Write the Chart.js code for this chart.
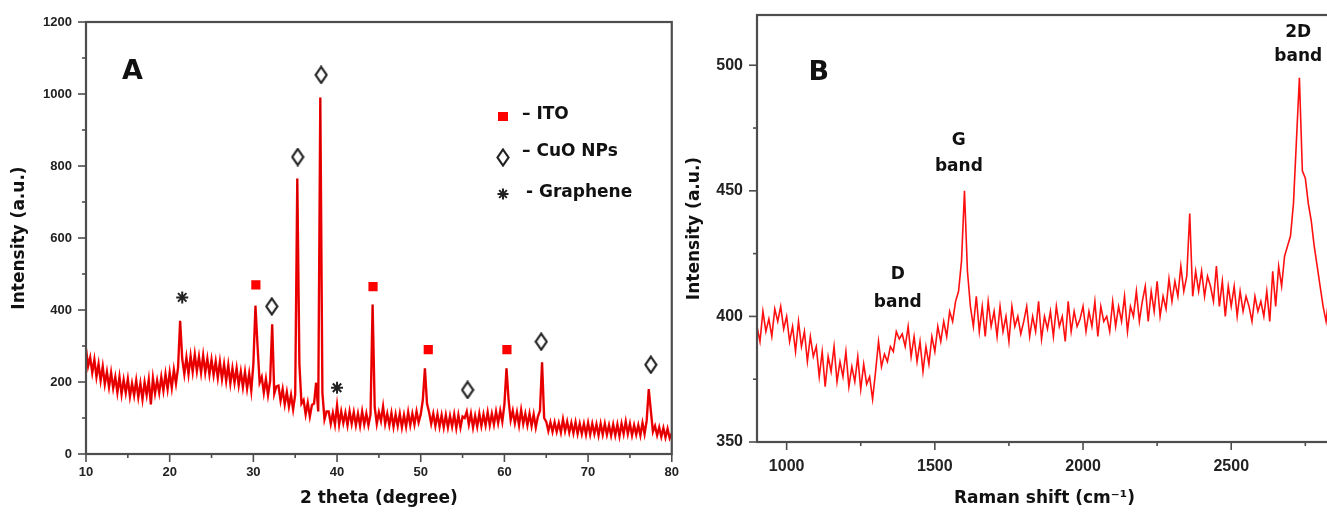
<!DOCTYPE html>
<html>
<head>
<meta charset="utf-8">
<title>XRD and Raman spectra</title>
<script src="https://cdn.jsdelivr.net/npm/chart.js@4.4.1/dist/chart.umd.min.js"></script>
<style>
  html, body { margin: 0; padding: 0; background: #fff; overflow: hidden; }
  body { width: 1327px; height: 512px; position: relative; }
  #boxA { position: absolute; left: 0; top: 0; width: 690px; height: 512px; }
  #boxB { position: absolute; left: 680px; top: 0; width: 680px; height: 512px; }
</style>
</head>
<body>
<div id="boxA"><canvas id="chartA"></canvas></div>
<div id="boxB"><canvas id="chartB"></canvas></div>
<script>
// ---- panel A : XRD pattern (2 theta, intensity) ----
const xrdTheta = [
  10, 10.25, 10.5, 10.75, 11, 11.25, 11.5, 11.75, 12, 12.25, 12.5, 12.75,
  13, 13.25, 13.5, 13.75, 14, 14.25, 14.5, 14.75, 15, 15.25, 15.5, 15.75,
  16, 16.25, 16.5, 16.75, 17, 17.25, 17.5, 17.75, 18, 18.25, 18.5, 18.75,
  19, 19.25, 19.5, 19.75, 20, 20.25, 20.5, 20.75, 21, 21.25, 21.5, 21.75,
  22, 22.25, 22.5, 22.75, 23, 23.25, 23.5, 23.75, 24, 24.25, 24.5, 24.75,
  25, 25.25, 25.5, 25.75, 26, 26.25, 26.5, 26.75, 27, 27.25, 27.5, 27.75,
  28, 28.25, 28.5, 28.75, 29, 29.25, 29.5, 29.75, 30, 30.25, 30.5, 30.75,
  31, 31.25, 31.5, 31.75, 32, 32.25, 32.5, 32.75, 33, 33.25, 33.5, 33.75,
  34, 34.25, 34.5, 34.75, 35, 35.25, 35.5, 35.75, 36, 36.25, 36.5, 36.75,
  37, 37.25, 37.5, 37.75, 38, 38.25, 38.5, 38.75, 39, 39.25, 39.5, 39.75,
  40, 40.25, 40.5, 40.75, 41, 41.25, 41.5, 41.75, 42, 42.25, 42.5, 42.75,
  43, 43.25, 43.5, 43.75, 44, 44.25, 44.5, 44.75, 45, 45.25, 45.5, 45.75,
  46, 46.25, 46.5, 46.75, 47, 47.25, 47.5, 47.75, 48, 48.25, 48.5, 48.75,
  49, 49.25, 49.5, 49.75, 50, 50.25, 50.5, 50.75, 51, 51.25, 51.5, 51.75,
  52, 52.25, 52.5, 52.75, 53, 53.25, 53.5, 53.75, 54, 54.25, 54.5, 54.75,
  55, 55.25, 55.5, 55.75, 56, 56.25, 56.5, 56.75, 57, 57.25, 57.5, 57.75,
  58, 58.25, 58.5, 58.75, 59, 59.25, 59.5, 59.75, 60, 60.25, 60.5, 60.75,
  61, 61.25, 61.5, 61.75, 62, 62.25, 62.5, 62.75, 63, 63.25, 63.5, 63.75,
  64, 64.25, 64.5, 64.75, 65, 65.25, 65.5, 65.75, 66, 66.25, 66.5, 66.75,
  67, 67.25, 67.5, 67.75, 68, 68.25, 68.5, 68.75, 69, 69.25, 69.5, 69.75,
  70, 70.25, 70.5, 70.75, 71, 71.25, 71.5, 71.75, 72, 72.25, 72.5, 72.75,
  73, 73.25, 73.5, 73.75, 74, 74.25, 74.5, 74.75, 75, 75.25, 75.5, 75.75,
  76, 76.25, 76.5, 76.75, 77, 77.25, 77.5, 77.75, 78, 78.25, 78.5, 78.75,
  79, 79.25, 79.5, 79.75, 80
];
const xrdIntensity = [
  292, 244, 268, 226, 262, 214, 250, 204, 243, 194, 228, 186,
  226, 183, 214, 171, 214, 166, 206, 170, 208, 160, 196, 163,
  204, 158, 196, 152, 199, 164, 206, 138, 210, 168, 204, 170,
  214, 176, 222, 180, 226, 184, 234, 196, 240, 370, 264, 222,
  268, 222, 272, 228, 276, 230, 270, 226, 274, 226, 265, 221,
  262, 219, 257, 212, 256, 208, 249, 203, 247, 196, 238, 198,
  238, 191, 229, 186, 228, 182, 223, 176, 250, 412, 300, 198,
  214, 170, 208, 164, 202, 360, 168, 188, 190, 148, 180, 138,
  172, 132, 164, 124, 165, 765, 250, 140, 150, 110, 142, 104,
  136, 140, 198, 118, 990, 170, 96, 118, 118, 84, 114, 82,
  135, 82, 118, 86, 114, 80, 118, 84, 116, 80, 112, 78,
  118, 82, 112, 80, 110, 415, 130, 84, 116, 92, 132, 84,
  112, 80, 114, 76, 110, 78, 112, 74, 108, 76, 116, 80,
  112, 82, 118, 88, 110, 150, 238, 140, 116, 84, 112, 78,
  110, 76, 108, 74, 108, 74, 106, 76, 110, 72, 108, 74,
  104, 100, 118, 82, 112, 74, 106, 76, 112, 78, 110, 80,
  116, 80, 112, 82, 118, 86, 120, 90, 138, 238, 150, 94,
  120, 86, 116, 80, 122, 84, 112, 80, 112, 78, 110, 74,
  104, 120, 255, 100, 90, 64, 88, 62, 88, 62, 86, 60,
  96, 64, 90, 60, 86, 58, 88, 56, 84, 56, 84, 54,
  86, 54, 84, 56, 82, 52, 84, 54, 84, 54, 80, 52,
  82, 52, 82, 50, 84, 56, 90, 56, 84, 52, 80, 54,
  80, 52, 86, 56, 92, 180, 120, 62, 78, 52, 74, 48,
  72, 46, 70, 44, 58
];
const xrdTicksX = [10, 15, 20, 25, 30, 35, 40, 45, 50, 55, 60, 65, 70, 75, 80];
const xrdTicksY = [0, 100, 200, 300, 400, 500, 600, 700, 800, 900, 1000, 1100, 1200];

// peak markers (2 theta, height of the symbol)
const itoTheta = [30.3, 44.3, 50.9, 60.3];
const itoMarkY = [470, 465, 290, 290];
const cuoTheta = [32.2, 35.3, 38.1, 55.6, 64.4, 77.5];
const cuoMarkY = [410, 825, 1053, 178, 312, 248];
const grapheneTheta = [21.5, 40.0];
const grapheneMarkY = [435, 184];

// ---- panel B : Raman spectrum ----
const ramanShift = [
  900, 910, 920, 930, 940, 950, 960, 970, 980, 990,
  1000, 1010, 1020, 1030, 1040, 1050, 1060, 1070, 1080, 1090,
  1100, 1110, 1120, 1130, 1140, 1150, 1160, 1170, 1180, 1190,
  1200, 1210, 1220, 1230, 1240, 1250, 1260, 1270, 1280, 1290,
  1300, 1310, 1320, 1330, 1340, 1350, 1360, 1370, 1380, 1390,
  1400, 1410, 1420, 1430, 1440, 1450, 1460, 1470, 1480, 1490,
  1500, 1510, 1520, 1530, 1540, 1550, 1560, 1570, 1580, 1590,
  1600, 1610, 1620, 1630, 1640, 1650, 1660, 1670, 1680, 1690,
  1700, 1710, 1720, 1730, 1740, 1750, 1760, 1770, 1780, 1790,
  1800, 1810, 1820, 1830, 1840, 1850, 1860, 1870, 1880, 1890,
  1900, 1910, 1920, 1930, 1940, 1950, 1960, 1970, 1980, 1990,
  2000, 2010, 2020, 2030, 2040, 2050, 2060, 2070, 2080, 2090,
  2100, 2110, 2120, 2130, 2140, 2150, 2160, 2170, 2180, 2190,
  2200, 2210, 2220, 2230, 2240, 2250, 2260, 2270, 2280, 2290,
  2300, 2310, 2320, 2330, 2340, 2350, 2360, 2370, 2380, 2390,
  2400, 2410, 2420, 2430, 2440, 2450, 2460, 2470, 2480, 2490,
  2500, 2510, 2520, 2530, 2540, 2550, 2560, 2570, 2580, 2590,
  2600, 2610, 2620, 2630, 2640, 2650, 2660, 2670, 2680, 2690,
  2700, 2710, 2720, 2730, 2740, 2750, 2760, 2770, 2780, 2790,
  2800, 2810, 2820, 2830, 2840
];
const ramanIntensity = [
  396, 390, 402, 394, 399, 392, 403, 398, 404, 395,
  400, 390, 396, 386, 398, 388, 394, 382, 392, 384,
  388, 376, 386, 372, 384, 378, 388, 374, 382, 376,
  386, 372, 380, 374, 384, 371, 381, 373, 376, 367,
  378, 390, 380, 385, 382, 388, 386, 394, 391, 393,
  388, 396, 384, 392, 382, 390, 378, 388, 381, 392,
  386, 396, 390, 398, 392, 402, 398, 406, 410, 422,
  450, 418, 404, 396, 408, 394, 404, 392, 406, 396,
  402, 392, 404, 394, 400, 390, 404, 396, 400, 393,
  398, 404, 392, 400, 394, 406, 391, 400, 395, 402,
  392, 404, 396, 400, 390, 406, 394, 402, 396, 399,
  404, 394, 402, 396, 406, 392, 404, 398, 400, 394,
  406, 396, 404, 398, 408, 394, 404, 400, 410, 398,
  406, 412, 398, 410, 402, 414, 400, 408, 403, 415,
  406, 414, 408, 420, 410, 416, 441, 408, 418, 410,
  418, 408, 416, 412, 406, 420, 404, 414, 400, 412,
  404, 412, 400, 410, 402, 408, 404, 398, 408, 402,
  406, 400, 410, 398, 418, 404, 420, 412, 424, 428,
  432, 445, 470, 495, 458, 455, 445, 438, 428, 420,
  412, 404, 398, 408, 402
];
const ramanTicksX = [1000, 1250, 1500, 1750, 2000, 2250, 2500, 2750];
const ramanTicksY = [350, 375, 400, 425, 450, 475, 500];

const FONT_T = '"DejaVu Sans", sans-serif';
const FONT_N = '"Liberation Sans", Arial, sans-serif';

function pairs(xs, ys) {
  return xs.map((x, i) => ({ x: x, y: ys[i] }));
}

function makeDiamond() {
  const c = document.createElement('canvas');
  c.width = 14; c.height = 19;
  const g = c.getContext('2d');
  g.beginPath();
  g.moveTo(7, 1.5); g.lineTo(12.5, 9.5); g.lineTo(7, 17.5); g.lineTo(1.5, 9.5);
  g.closePath();
  g.fillStyle = '#fff'; g.fill();
  g.strokeStyle = '#222'; g.lineWidth = 2.2; g.stroke();
  return c;
}
const diamond = makeDiamond();

// box round the plot area plus outward major/minor ticks
function frameTicks(xMajor, yMajor) {
  return {
    id: 'frameTicks',
    afterDraw(chart) {
      const { ctx, chartArea: a, scales } = chart;
      ctx.save();
      ctx.strokeStyle = '#4d4d4d';
      ctx.lineWidth = 1.6;
      scales.x.ticks.forEach(t => {
        const px = scales.x.getPixelForValue(t.value);
        const len = t.value % xMajor === 0 ? 8 : 4;
        ctx.beginPath(); ctx.moveTo(px, a.bottom); ctx.lineTo(px, a.bottom + len); ctx.stroke();
      });
      scales.y.ticks.forEach(t => {
        const py = scales.y.getPixelForValue(t.value);
        const len = t.value % yMajor === 0 ? 8 : 4;
        ctx.beginPath(); ctx.moveTo(a.left, py); ctx.lineTo(a.left - len, py); ctx.stroke();
      });
      ctx.lineWidth = 2.2;
      ctx.strokeRect(a.left, a.top, a.right - a.left, a.bottom - a.top);
      ctx.restore();
    }
  };
}

// text placed in data coordinates
function notes(items) {
  return {
    id: 'notes',
    afterDraw(chart) {
      const { ctx, scales: { x, y } } = chart;
      ctx.save();
      ctx.fillStyle = '#111';
      ctx.textBaseline = 'middle';
      items.forEach(n => {
        ctx.font = n.font;
        ctx.textAlign = n.align || 'center';
        ctx.fillText(n.text, x.getPixelForValue(n.x), y.getPixelForValue(n.y));
      });
      ctx.restore();
    }
  };
}

const xrdLegend = {
  id: 'xrdLegend',
  afterDraw(chart) {
    const { ctx, chartArea: a } = chart;
    const mx = a.left + 417;
    ctx.save();
    ctx.fillStyle = '#ff0000';
    ctx.fillRect(mx - 5, a.top + 90, 10, 9);
    ctx.drawImage(diamond, mx - 7, a.top + 126);
    ctx.strokeStyle = '#222';
    ctx.lineWidth = 2;
    const sy = a.top + 172, r = 5.5;
    ctx.beginPath();
    ctx.moveTo(mx, sy - r); ctx.lineTo(mx, sy + r);
    ctx.moveTo(mx - r, sy); ctx.lineTo(mx + r, sy);
    ctx.moveTo(mx - r * 0.7, sy - r * 0.7); ctx.lineTo(mx + r * 0.7, sy + r * 0.7);
    ctx.moveTo(mx - r * 0.7, sy + r * 0.7); ctx.lineTo(mx + r * 0.7, sy - r * 0.7);
    ctx.stroke();
    ctx.fillStyle = '#111';
    ctx.font = 'bold 17px ' + FONT_T;
    ctx.textAlign = 'left';
    ctx.textBaseline = 'middle';
    ctx.fillText('\u2013 ITO', a.left + 436, a.top + 93);
    ctx.fillText('\u2013 CuO NPs', a.left + 436, a.top + 130);
    ctx.fillText('- Graphene', a.left + 440, a.top + 171);
    ctx.restore();
  }
};

function tickFont(size) {
  return { family: FONT_N, size: size, weight: 'bold' };
}
function titleFont() {
  return { family: FONT_T, size: 17, weight: 'bold', lineHeight: 1 };
}
function useTicks(values) {
  return s => { s.ticks = values.map(v => ({ value: v })); };
}

document.addEventListener('DOMContentLoaded', function() {

  new Chart(document.getElementById('chartA'), {
    type: 'scatter',
    data: {
      datasets: [
        { data: pairs(itoTheta, itoMarkY), pointStyle: 'rect', pointRadius: 6.5,
          pointBackgroundColor: '#ff0000', pointBorderWidth: 0, order: 0 },
        { data: pairs(cuoTheta, cuoMarkY), pointStyle: diamond, pointRadius: 7, order: 0 },
        { data: pairs(grapheneTheta, grapheneMarkY), pointStyle: 'star', pointRadius: 6,
          pointBorderColor: '#222', pointBorderWidth: 2, order: 0 },
        { data: pairs(xrdTheta, xrdIntensity), showLine: true, borderColor: 'rgba(80,0,0,0.3)',
          borderWidth: 0.8, pointRadius: 0, order: 1 },
        { data: pairs(xrdTheta, xrdIntensity), showLine: true, borderColor: '#ff0000',
          borderWidth: 2.4, pointRadius: 0, order: 2 }
      ]
    },
    options: {
      responsive: true,
      maintainAspectRatio: false,
      animation: false,
      events: [],
      layout: { padding: { left: 0, right: 18, top: 22, bottom: 0 } },
      plugins: { legend: { display: false }, tooltip: { enabled: false } },
      scales: {
        x: {
          type: 'linear', min: 10, max: 80,
          grid: { display: false, drawTicks: false },
          border: { display: false },
          ticks: { autoSkip: false, maxRotation: 0, padding: 11, color: '#222',
                   font: tickFont(13), callback: v => (v % 10 === 0 ? v : '') },
          title: { display: true, text: '2 theta (degree)', color: '#111', font: titleFont(),
                   padding: { top: 0, bottom: 5 } },
          afterBuildTicks: useTicks(xrdTicksX),
          afterFit: s => { s.height = 58; }
        },
        y: {
          type: 'linear', min: 0, max: 1200,
          grid: { display: false, drawTicks: false },
          border: { display: false },
          ticks: { autoSkip: false, padding: 14, color: '#222',
                   font: tickFont(13), callback: v => (v % 200 === 0 ? v : '') },
          title: { display: true, text: 'Intensity (a.u.)', color: '#111', font: titleFont(),
                   padding: { top: 11, bottom: 0 } },
          afterBuildTicks: useTicks(xrdTicksY),
          afterFit: s => { s.width = 86; s.paddingTop = 0; s.paddingBottom = 0; }
        }
      }
    },
    plugins: [
      frameTicks(10, 200),
      notes([{ text: 'A', x: 14.3, y: 1061, align: 'left', font: 'bold 27px ' + FONT_T }]),
      xrdLegend
    ]
  });

  new Chart(document.getElementById('chartB'), {
    type: 'scatter',
    data: {
      datasets: [
        { data: pairs(ramanShift, ramanIntensity), showLine: true, borderColor: '#ff1010',
          borderWidth: 1.6, pointRadius: 0 }
      ]
    },
    options: {
      responsive: true,
      maintainAspectRatio: false,
      animation: false,
      events: [],
      layout: { padding: { left: 0, right: 28, top: 15, bottom: 0 } },
      plugins: { legend: { display: false }, tooltip: { enabled: false } },
      scales: {
        x: {
          type: 'linear', min: 900, max: 2840,
          grid: { display: false, drawTicks: false },
          border: { display: false },
          ticks: { autoSkip: false, maxRotation: 0, padding: 15, color: '#222',
                   font: tickFont(16), callback: v => (v % 500 === 0 ? v : '') },
          title: { display: true, text: 'Raman shift (cm\u207B\u00B9)', color: '#111', font: titleFont(),
                   padding: { top: 0, bottom: 5 } },
          afterBuildTicks: useTicks(ramanTicksX),
          afterFit: s => { s.height = 70; s.paddingLeft = 0; s.paddingRight = 0; }
        },
        y: {
          type: 'linear', min: 350, max: 520,
          grid: { display: false, drawTicks: false },
          border: { display: false },
          ticks: { autoSkip: false, padding: 14, color: '#222',
                   font: tickFont(16), callback: v => (v % 50 === 0 ? v : '') },
          title: { display: true, text: 'Intensity (a.u.)', color: '#111', font: titleFont(),
                   padding: { top: 6, bottom: 0 } },
          afterBuildTicks: useTicks(ramanTicksY),
          afterFit: s => { s.width = 77; s.paddingTop = 0; s.paddingBottom = 0; }
        }
      }
    },
    plugins: [
      frameTicks(500, 50),
      notes([
        { text: 'B', x: 1074, y: 497, align: 'left', font: 'bold 27px ' + FONT_T },
        { text: 'G', x: 1581, y: 470, font: 'bold 17px ' + FONT_T },
        { text: 'band', x: 1581, y: 459.5, font: 'bold 17px ' + FONT_T },
        { text: 'D', x: 1375, y: 416.5, font: 'bold 17px ' + FONT_T },
        { text: 'band', x: 1375, y: 405.7, font: 'bold 17px ' + FONT_T },
        { text: '2D', x: 2726, y: 513, font: 'bold 17px ' + FONT_T },
        { text: 'band', x: 2726, y: 503.6, font: 'bold 17px ' + FONT_T }
      ])
    ]
  });
});
</script>
</body>
</html>
